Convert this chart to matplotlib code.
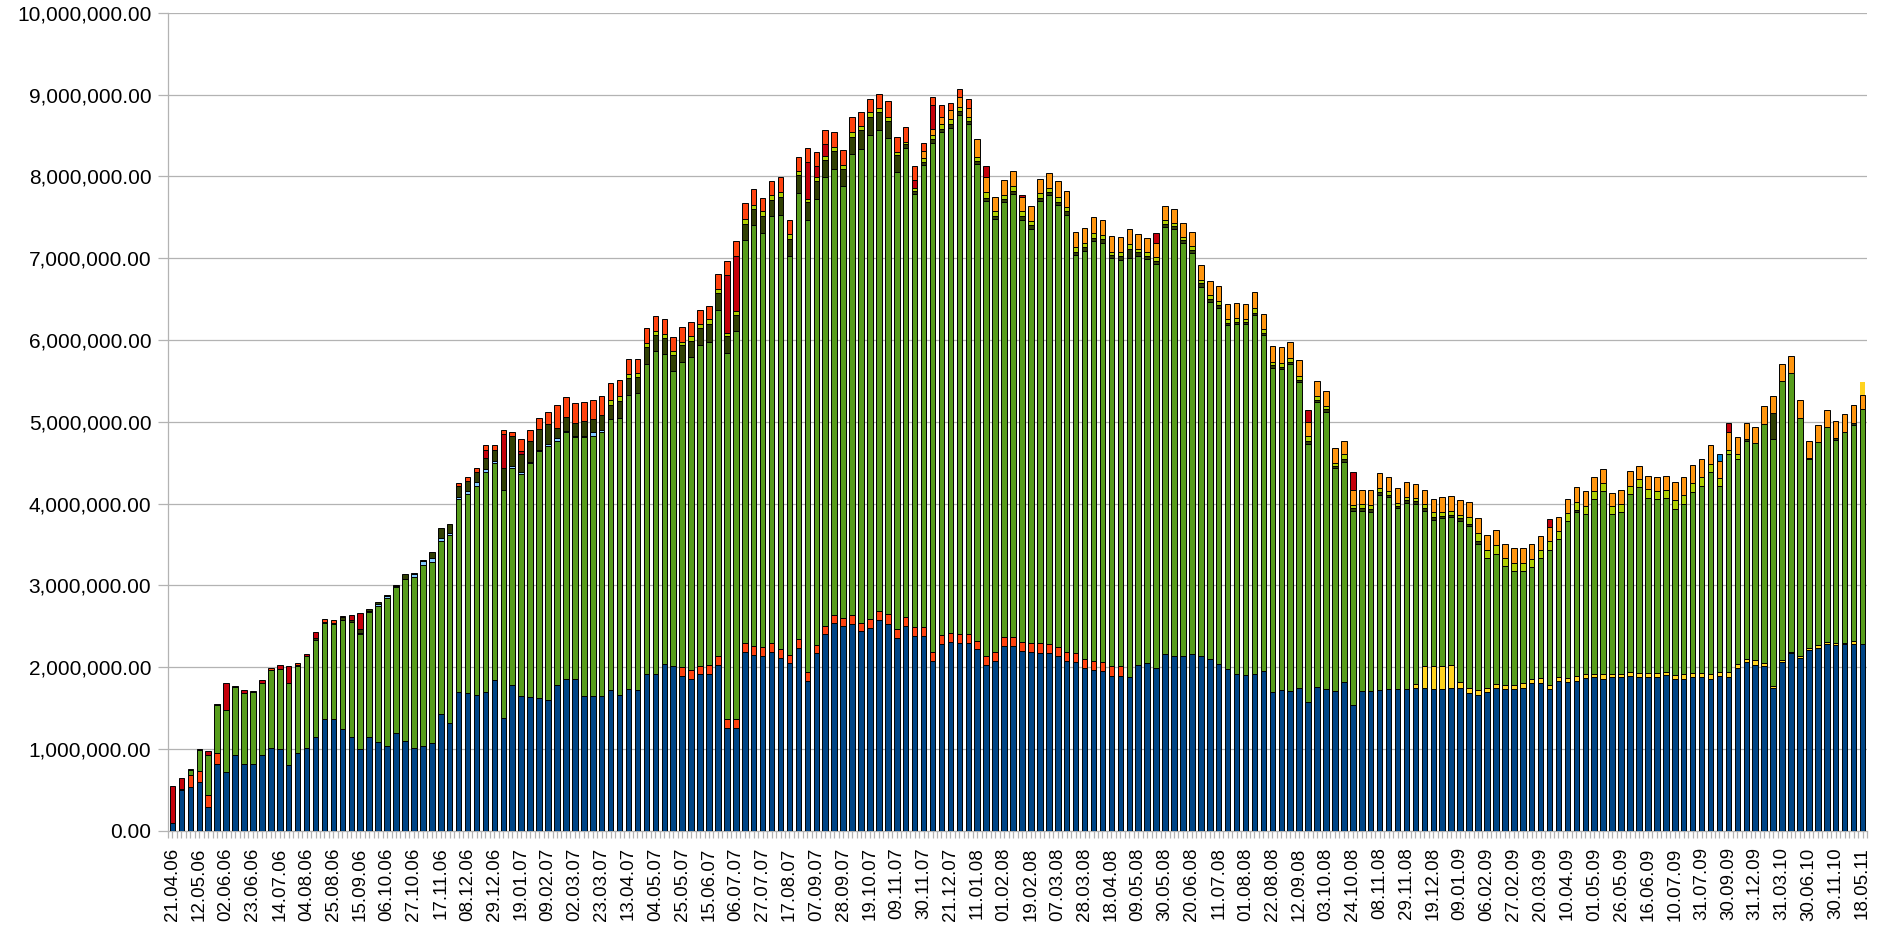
import numpy as np
import matplotlib
matplotlib.use('Agg')
import matplotlib.pyplot as plt
from matplotlib.ticker import FuncFormatter, MultipleLocator

plt.rcParams['font.family'] = ['Liberation Sans', 'DejaVu Sans']

'''Data (values in millions, one entry per week/bar, 190 bars)'''
#x labels: only every 3rd bar carries a label
date_labels = ['21.04.06', '12.05.06', '02.06.06', '23.06.06', '14.07.06', '04.08.06', '25.08.06', '15.09.06',
               '06.10.06', '27.10.06', '17.11.06', '08.12.06', '29.12.06', '19.01.07', '09.02.07', '02.03.07',
               '23.03.07', '13.04.07', '04.05.07', '25.05.07', '15.06.07', '06.07.07', '27.07.07', '17.08.07',
               '07.09.07', '28.09.07', '19.10.07', '09.11.07', '30.11.07', '21.12.07', '11.01.08', '01.02.08',
               '19.02.08', '07.03.08', '28.03.08', '18.04.08', '09.05.08', '30.05.08', '20.06.08', '11.07.08',
               '01.08.08', '22.08.08', '12.09.08', '03.10.08', '24.10.08', '08.11.08', '29.11.08', '19.12.08',
               '09.01.09', '06.02.09', '27.02.09', '20.03.09', '10.04.09', '01.05.09', '26.05.09', '16.06.09',
               '10.07.09', '31.07.09', '30.09.09', '31.12.09', '31.03.10', '30.06.10', '30.11.10', '18.05.11']
n_bars = 190

#Series 1: navy (bottom)
blue = [0.10, 0.50, 0.54, 0.59, 0.29, 0.81, 0.72, 0.93, 0.82, 0.82,
        0.93, 1.01, 1.00, 0.80, 0.95, 1.01, 1.14, 1.36, 1.36, 1.24,
        1.15, 1.00, 1.15, 1.08, 1.04, 1.19, 1.10, 1.01, 1.04, 1.07,
        1.43, 1.32, 1.69, 1.68, 1.66, 1.70, 1.84, 1.38, 1.78, 1.65,
        1.64, 1.62, 1.60, 1.78, 1.86, 1.86, 1.65, 1.65, 1.65, 1.72,
        1.66, 1.73, 1.72, 1.92, 1.92, 2.04, 2.01, 1.89, 1.86, 1.91,
        1.92, 2.03, 1.26, 1.26, 2.19, 2.15, 2.14, 2.18, 2.11, 2.05,
        2.23, 1.83, 2.17, 2.40, 2.54, 2.50, 2.53, 2.44, 2.48, 2.57,
        2.53, 2.36, 2.50, 2.38, 2.38, 2.08, 2.28, 2.31, 2.29, 2.29,
        2.22, 2.03, 2.07, 2.26, 2.26, 2.20, 2.19, 2.17, 2.17, 2.13,
        2.07, 2.06, 1.99, 1.97, 1.95, 1.89, 1.89, 1.88, 2.03, 2.05,
        1.99, 2.16, 2.14, 2.13, 2.16, 2.14, 2.10, 2.04, 1.98, 1.91,
        1.90, 1.91, 1.95, 1.70, 1.72, 1.71, 1.74, 1.57, 1.76, 1.73,
        1.71, 1.82, 1.54, 1.71, 1.71, 1.72, 1.73, 1.73, 1.73, 1.74,
        1.75, 1.73, 1.73, 1.74, 1.75, 1.68, 1.66, 1.69, 1.74, 1.73,
        1.73, 1.75, 1.80, 1.81, 1.73, 1.83, 1.82, 1.83, 1.87, 1.88,
        1.86, 1.88, 1.88, 1.89, 1.88, 1.88, 1.88, 1.90, 1.85, 1.86,
        1.88, 1.88, 1.86, 1.89, 1.88, 1.99, 2.06, 2.03, 2.01, 1.74,
        2.06, 2.17, 2.11, 2.21, 2.23, 2.28, 2.27, 2.28, 2.28, 2.28]

#Series 2: orange-red (low) - sparse {bar: value}
low_orange = {2: .14, 3: .14, 4: .15, 5: .14,
              57: .11, 58: .11, 59: .10, 60: .10, 61: .11, 62: .11, 63: .11, 64: .11, 65: .11, 66: .10,
              67: .11, 68: .11, 69: .10, 70: .11, 71: .11, 72: .10, 73: .10, 74: .10, 75: .10, 76: .11,
              77: .10, 78: .11, 79: .11, 80: .12, 81: .10, 82: .11, 83: .11, 84: .11, 85: .11, 86: .11,
              87: .11, 88: .11, 89: .11, 90: .10, 91: .11, 92: .12, 93: .11, 94: .11, 95: .11, 96: .11,
              97: .12, 98: .11, 99: .12, 100: .12, 101: .11, 102: .11, 103: .11, 104: .11, 105: .12, 106: .12}

#Series 3: yellow (low)
yellow = {139: .05, 140: .26, 141: .28, 142: .28, 143: .28, 144: .07, 145: .06, 146: .06, 147: .05, 148: .05,
          149: .05, 150: .05, 151: .05, 152: .06, 153: .06, 154: .05, 155: .05, 156: .05, 157: .06, 158: .05,
          159: .04, 160: .06, 161: .04, 162: .04, 163: .05, 164: .05, 165: .05, 166: .05, 167: .04, 168: .05,
          169: .05, 170: .05, 171: .05, 172: .06, 173: .05, 174: .06, 175: .05, 176: .04, 177: .06, 178: .04,
          179: .03, 180: .03, 181: .02, 182: .03, 183: .02, 184: .04, 185: .03, 186: .03, 187: .02, 188: .04}

#Series 4: green
green = [0, 0, 0.06, 0.26, 0.49, 0.59, 0.75, 0.83, 0.86, 0.88,
         0.87, 0.95, 0.98, 1.00, 1.06, 1.12, 1.19, 1.18, 1.17, 1.34,
         1.40, 1.41, 1.52, 1.67, 1.81, 1.79, 1.98, 2.09, 2.21, 2.22,
         2.11, 2.30, 2.36, 2.44, 2.55, 2.69, 2.65, 2.79, 2.66, 2.71,
         2.85, 3.02, 3.10, 2.99, 3.01, 2.95, 3.16, 3.18, 3.23, 3.31,
         3.38, 3.60, 3.63, 3.78, 3.94, 3.79, 3.61, 3.73, 3.82, 3.93,
         3.96, 4.22, 4.47, 4.74, 4.92, 5.14, 5.07, 5.23, 5.31, 4.87,
         5.45, 5.53, 5.45, 5.49, 5.45, 5.28, 5.63, 5.79, 5.91, 5.88,
         5.82, 5.59, 5.73, 5.29, 5.65, 6.22, 6.15, 6.17, 6.35, 6.24,
         5.83, 5.56, 5.29, 5.31, 5.41, 5.16, 5.06, 5.41, 5.49, 5.40,
         5.34, 4.87, 4.99, 5.13, 5.13, 4.99, 4.97, 5.12, 5.00, 4.94,
         4.94, 5.22, 5.21, 5.05, 4.90, 4.51, 4.36, 4.35, 4.20, 4.28,
         4.29, 4.39, 4.11, 3.96, 3.92, 3.99, 3.74, 3.16, 3.48, 3.39,
         2.72, 2.69, 2.37, 2.20, 2.19, 2.39, 2.35, 2.21, 2.28, 2.21,
         1.90, 1.79, 1.81, 1.81, 1.97, 1.98, 1.79, 1.59, 1.59, 1.45,
         1.39, 1.37, 1.36, 1.46, 1.65, 1.68, 1.91, 2.00, 1.95, 2.13,
         2.23, 1.95, 1.97, 2.18, 2.27, 2.14, 2.12, 2.13, 2.03, 2.09,
         2.21, 2.29, 2.46, 2.27, 2.66, 2.51, 2.67, 2.65, 2.92, 3.02,
         3.41, 3.40, 2.91, 2.31, 2.48, 2.62, 2.48, 2.57, 2.64, 2.87]

#Series 6: light blue
light_blue = {21: .01, 22: .01, 23: .02, 24: .02, 25: .01, 27: .04, 28: .05, 29: .04, 30: .04, 31: .02,
              32: .03, 33: .03, 34: .05, 35: .03, 36: .03, 38: .02, 39: .03, 40: .02, 41: .02, 42: .03,
              43: .03, 44: .02, 45: .02, 46: .02, 47: .04, 48: .02}

#Series 7: dark olive
dark = [0, .01, .01, .01, 0, .01, 0, .01, 0, .01,
        0, .01, 0, 0, .01, 0, .02, .01, .01, .03,
        .03, .04, .03, .03, .01, .01, .06, .01, .01, .08,
        .12, .11, .13, .13, .12, .14, .13, .27, .36, .22,
        .25, .25, .24, .12, .17, .15, .18, .16, .18, .18,
        .21, .20, .20, .21, .20, .19, .20, .21, .20, .21,
        .21, .21, .21, .20, .20, .20, .21, .19, .22, .21,
        .22, .21, .22, .21, .22, .21, .21, .23, .22, .22,
        .21, .21, .05, .04, .04, .04, .04, .05, .05, .04,
        .04, .04, .04, .04, .04, .04, .04, .04, .04, .04,
        .04, .04, .04, .04, .04, .04, .04, .11, .04, .04,
        .04, .04, .04, .04, .04, .04, .04, .04, .03, .03,
        .03, .03, .03, .03, .03, .03, .03, .03, .03, .03,
        .03, .03, .03, .03, .03, .03, .03, .03, .03, .03,
        .03, .03, .03, .03, .03, .03, .03, 0, 0, 0,
        0, 0, 0, 0, 0, 0, 0, .03, 0, 0,
        0, 0, 0, 0, 0, 0, 0, 0, 0, 0,
        0, 0, 0, 0, 0, 0, .02, 0, 0, .32,
        0, 0, 0, .02, 0, 0, .02, 0, .02, 0]

#Series 8: lime
lime = [0] * 49 + [
        .06,
        .06, .05, .05, .05, .05, .05, .05, .04, .06, .05,
        .06, .05, .04, .04, .06, .05, .05, .06, .06, .06,
        .06, .04, .05, .05, .05, .05, .06, .05, .06, .06,
        .05, .04, .03, .04, .04, .05, .06, .06, .05, .05,
        .05, .07, .05, .05, .06, .06, .05, .05, .05, .06,
        .06, .05, .05, .06, .05, .04, .05, .06, .04, .04,
        .04, .05, .04, .04, .05, .04, .05, .05, .04, .05,
        .04, .06, .04, .04, .05, .05, .05, .06, .04, .04,
        .03, .06, .04, .05, .05, .05, .04, .04, .04, .04,
        .05, .06, .04, .05, .04, .09, .10, .10, .11, .10,
        .10, .10, .10, .10, .11, .10, .10, .10, .10, .10,
        .10, .10, .10, .10, .10, .11, .10, .10, .11, .11,
        .11, .10, .10, .10, .06, .05, 0, 0, 0, 0,
        0, 0, 0, 0, 0, 0, 0, 0, 0, 0]

#Series 10: orange
orange = [0] * 84 + [
          .09, .08, .08, .11, .12, .11,
          .21, .18, .18, .18, .18, .18, .19, .18, .18, .19,
          .19, .19, .19, .19, .19, .19, .19, .19, .19, .17,
          .18, .17, .17, .17, .17, .19, .17, .18, .19, .18,
          .18, .19, .19, .19, .19, .19, .19, .18, .19, .19,
          .19, .17, .18, .18, .18, .18, .18, .18, .18, .17,
          .17, .16, .19, .18, .18, .18, .18, .18, .18, .17,
          .18, .18, .18, .17, .17, .17, .18, .18, .18, .17,
          .17, .16, .17, .18, .16, .16, .17, .17, .22, .22,
          .22, .22, .23, .21, .22, .21, .20, .20, .22, .21,
          .21, .21, .21, .21, .21, .21, .21, .23, .23, .18]

#Series 11: red
red = {0: .45, 1: .13, 4: .05, 6: .33, 8: .04, 10: .04, 12: .04, 13: .21, 15: .03, 16: .08,
       19: .02, 20: .06, 21: .20, 35: .10, 37: .41, 39: .03, 62: .70, 63: .67, 71: .46, 72: .14,
       73: .14, 83: .10, 85: .29, 91: .13, 95: .02, 110: .12, 127: .14, 132: .22, 154: .10, 174: .10}

#Series 12: light navy
blue2 = {173: .08}

#Series 14: orange-red (top)
top_red = [0] * 11 + [.02, 0, 0, .03, 0, 0, .04, .04, 0] + [0] * 12 + [
           .04, .04, .05, .05, .06, .05, .05, .15,
           .14, .14, .15, .28, .24, .25, .23, .24, .23, .20,
           .20, .19, .17, .18, .18, .19, .17, .18, .17, .17,
           .16, .18, .18, .19, .19, .19, .17, .17, .18, .18,
           .17, .17, .17, .17, .18, .18, .18, .18, .17, .17,
           .19, .18, .18, .17, .10, .10, .15, .09, .10, .11] + [0] * 100

#Series 15: yellow (top, drawn without outline)
top_yellow = {189: .16}


def dense(d):
    arr = np.zeros(n_bars)
    for k, v in d.items():
        arr[k] = v
    return arr


#stack order bottom -> top with LibreOffice default colours
series = [(np.array(blue), '#004586', 'black'),
          (dense(low_orange), '#ff420e', 'black'),
          (dense(yellow), '#ffd320', 'black'),
          (np.array(green), '#579d1c', 'black'),
          (dense(light_blue), '#83caff', 'black'),
          (np.array(dark), '#314004', 'black'),
          (np.array(lime), '#aecf00', 'black'),
          (np.array(orange), '#ff950e', 'black'),
          (dense(red), '#c5000b', 'black'),
          (dense(blue2), '#0084d1', 'black'),
          (np.array(top_red), '#ff420e', 'black'),
          (dense(top_yellow), '#ffd320', 'none')]

'''Plot'''
W, H = 1884, 927
fig = plt.figure(figsize=(W / 100, H / 100), dpi=100)
ax = fig.add_axes([168 / W, (H - 830.7) / H, (1867 - 168) / W, (830.7 - 12.7) / H])

x = np.arange(n_bars)
bottom = np.zeros(n_bars)
for vals, col, edge in series:
    vals = vals * 1e6
    m = vals > 0
    ax.bar(x[m], vals[m], bottom=bottom[m], width=0.62, color=col,
           edgecolor=edge, linewidth=0.7, zorder=3)
    bottom = bottom + vals

ax.set_xlim(-0.5, n_bars - 0.5)
ax.set_ylim(0, 10e6)
ax.yaxis.set_major_locator(MultipleLocator(1e6))
ax.yaxis.set_major_formatter(FuncFormatter(lambda v, p: '{:,.2f}'.format(v)))
ax.grid(axis='y', color='#b3b3b3', linewidth=0.9, zorder=0)

ax.set_xticks(np.arange(0, n_bars, 3))
ax.set_xticklabels(date_labels, rotation=90)
ax.set_xticks(np.arange(-0.5, n_bars, 0.5), minor=True)

for s in ['top', 'right']:
    ax.spines[s].set_visible(False)
for s in ['left', 'bottom']:
    ax.spines[s].set_color('#b3b3b3')
    ax.spines[s].set_linewidth(0.9)

ax.tick_params(axis='y', which='major', length=7, width=0.9, color='#b3b3b3', pad=5, labelsize=15)
ax.tick_params(axis='x', which='both', length=5, width=0.9, color='#b3b3b3')
ax.tick_params(axis='x', which='major', pad=7, labelsize=13.5)

fig.savefig('out.png', dpi=100)
